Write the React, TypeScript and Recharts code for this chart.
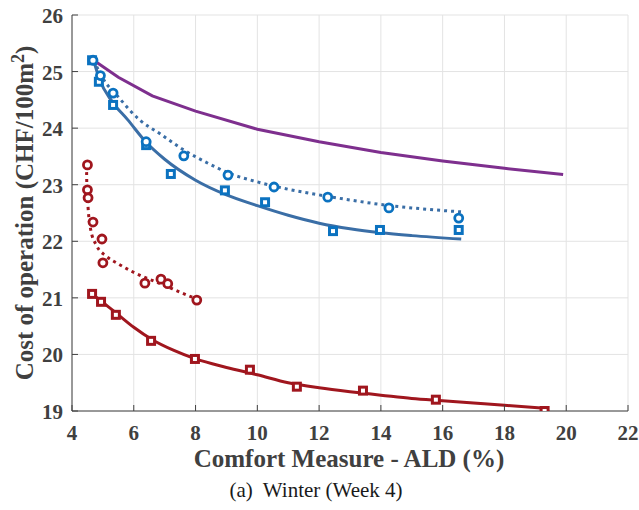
import React from 'react';
import { ComposedChart, Line, Scatter, XAxis, YAxis, CartesianGrid } from 'recharts';

type Pt = [number, number];
const toData = (pts: Pt[]) => pts.map(([x, y]) => ({ x, y }));

// x: comfort measure ALD (%), y: cost of operation (CHF/100m2)
const purpleCurve: Pt[] = [
  [4.7, 25.2], [5.5, 24.9], [6.6, 24.57], [8, 24.3], [10, 23.98], [12, 23.76],
  [14, 23.57], [16, 23.42], [18, 23.29], [19.9, 23.18],
];

const blueFitSolid: Pt[] = [
  [4.7, 25.2], [4.9, 24.85], [5.3, 24.47], [5.8, 24.15], [6.4, 23.75], [7, 23.45],
  [8, 23.08], [9, 22.82], [10, 22.63], [11, 22.46], [12, 22.32], [13, 22.22],
  [14, 22.15], [15, 22.1], [16.6, 22.04],
];
const blueSquares: Pt[] = [
  [4.65, 25.2], [4.87, 24.82], [5.33, 24.41], [6.4, 23.7], [7.2, 23.19],
  [8.95, 22.9], [10.25, 22.69], [12.45, 22.18], [13.97, 22.2], [16.52, 22.2],
];

const blueFitDotted: Pt[] = [
  [4.7, 25.2], [5, 24.88], [5.5, 24.55], [6.2, 24.14], [6.85, 23.9], [7.6, 23.62],
  [8.4, 23.38], [9.1, 23.2], [10, 23.05], [11, 22.92], [12, 22.82], [13, 22.73],
  [14, 22.65], [15, 22.59], [16.6, 22.52],
];
const blueCircles: Pt[] = [
  [4.68, 25.2], [4.92, 24.93], [5.33, 24.62], [6.4, 23.76], [7.62, 23.51],
  [9.05, 23.17], [10.54, 22.96], [12.28, 22.78], [14.26, 22.59], [16.52, 22.41],
];

const redFitSolid: Pt[] = [
  [4.65, 21.07], [5, 20.92], [5.5, 20.7], [6, 20.48], [6.6, 20.26], [7.3, 20.07],
  [8, 19.92], [9, 19.77], [10, 19.64], [11, 19.5], [12, 19.41], [13, 19.34],
  [14, 19.28], [15, 19.22], [16, 19.18], [17, 19.14], [18, 19.1], [19.3, 19.05],
];
const redSquares: Pt[] = [
  [4.65, 21.07], [4.94, 20.93], [5.42, 20.7], [6.56, 20.24], [7.98, 19.92],
  [9.76, 19.73], [11.28, 19.43], [13.42, 19.36], [15.78, 19.2], [19.3, 19.0],
];

const redFitDotted: Pt[] = [
  [4.47, 23.35], [4.48, 23.0], [4.52, 22.6], [4.6, 22.22], [4.8, 21.92], [5.1, 21.74],
  [5.5, 21.6], [6, 21.45], [6.5, 21.33], [7, 21.22], [7.5, 21.1], [8.04, 20.98],
];
const redCircles: Pt[] = [
  [4.5, 23.35], [4.5, 22.91], [4.52, 22.77], [4.68, 22.34], [4.97, 22.04],
  [5.0, 21.62], [6.36, 21.26], [6.88, 21.33], [7.1, 21.25], [8.04, 20.96],
];

const xTicks = [4, 6, 8, 10, 12, 14, 16, 18, 20, 22];
const yTicks = [19, 20, 21, 22, 23, 24, 25, 26];

const PURPLE = '#7E2F8E';
const BLUE_LINE = '#3A6EA6';
const BLUE_MARK = '#0B72C0';
const RED = '#A0161E';
const AXIS = '#404040';
const FONT = '"Liberation Serif", "DejaVu Serif", serif';

const TICK_MARGIN_X = 14;
const TICK_MARGIN_Y = 9;

const XTick = (props: any) => {
  const { x, y, payload } = props;
  const axisY = y - TICK_MARGIN_X;
  return (
    <g>
      <line x1={x} y1={axisY} x2={x} y2={axisY - 6} stroke={AXIS} strokeWidth={1} />
      <text x={x} y={y} dy={15} textAnchor="middle" fill={AXIS}
        style={{ fontFamily: FONT, fontWeight: 'bold', fontSize: 21 }}>
        {payload.value}
      </text>
    </g>
  );
};

const YTick = (props: any) => {
  const { x, y, payload } = props;
  const axisX = x + TICK_MARGIN_Y;
  return (
    <g>
      <line x1={axisX} y1={y} x2={axisX + 6} y2={y} stroke={AXIS} strokeWidth={1} />
      <text x={x} y={y} dy={8} textAnchor="end" fill={AXIS}
        style={{ fontFamily: FONT, fontWeight: 'bold', fontSize: 21 }}>
        {payload.value}
      </text>
    </g>
  );
};

const squareShape = (color: string) => (props: any) => {
  const { cx, cy } = props;
  return <rect x={cx - 3.5} y={cy - 3.5} width={7} height={7} fill="white" stroke={color} strokeWidth={3} />;
};

const circleShape = (color: string) => (props: any) => {
  const { cx, cy } = props;
  return <circle cx={cx} cy={cy} r={4} fill="white" stroke={color} strokeWidth={2.8} />;
};

export default function App() {
  return (
    <div style={{ position: 'absolute', left: 0, top: 0, width: 639, height: 510, background: 'white' }}>
      <ComposedChart width={639} height={510} margin={{ top: 15, right: 11, bottom: 59, left: 12 }}>
        <CartesianGrid stroke="#E3E3E3" strokeWidth={1} />
        <XAxis type="number" dataKey="x" domain={[4, 22]} ticks={xTicks} height={40}
          stroke={AXIS} tickLine={false} tickSize={0} tickMargin={TICK_MARGIN_X}
          tick={(p: any) => <XTick {...p} />} allowDataOverflow />
        <YAxis type="number" dataKey="y" domain={[19, 26]} ticks={yTicks} width={60}
          stroke={AXIS} tickLine={false} tickSize={0} tickMargin={TICK_MARGIN_Y}
          tick={(p: any) => <YTick {...p} />} allowDataOverflow />

        <Line data={toData(purpleCurve)} dataKey="y" type="linear" stroke={PURPLE} strokeWidth={3}
          dot={false} isAnimationActive={false} />

        <Line data={toData(blueFitSolid)} dataKey="y" type="monotone" stroke={BLUE_LINE} strokeWidth={3}
          dot={false} isAnimationActive={false} />
        <Line data={toData(blueFitDotted)} dataKey="y" type="monotone" stroke={BLUE_LINE} strokeWidth={3}
          strokeDasharray="3 4" dot={false} isAnimationActive={false} />
        <Line data={toData(redFitSolid)} dataKey="y" type="monotone" stroke={RED} strokeWidth={3}
          dot={false} isAnimationActive={false} />
        <Line data={toData(redFitDotted)} dataKey="y" type="monotone" stroke={RED} strokeWidth={3}
          strokeDasharray="3 4" dot={false} isAnimationActive={false} />

        <Scatter data={toData(blueSquares)} dataKey="y" shape={squareShape(BLUE_MARK)} isAnimationActive={false} />
        <Scatter data={toData(blueCircles)} dataKey="y" shape={circleShape(BLUE_MARK)} isAnimationActive={false} />
        <Scatter data={toData(redSquares)} dataKey="y" shape={squareShape(RED)} isAnimationActive={false} />
        <Scatter data={toData(redCircles)} dataKey="y" shape={circleShape(RED)} isAnimationActive={false} />
      </ComposedChart>

      {/* axis titles and caption */}
      <svg width={639} height={510} style={{ position: 'absolute', left: 0, top: 0, pointerEvents: 'none' }}>
        <text transform="translate(33,213) rotate(-90)" textAnchor="middle" fill={AXIS}
          style={{ fontFamily: FONT, fontWeight: 'bold', fontSize: 25 }}>
          Cost of operation (CHF/100m<tspan dy={-9} style={{ fontSize: 18 }}>2</tspan><tspan dy={9}>)</tspan>
        </text>
        <text x={349} y={467} textAnchor="middle" fill={AXIS}
          style={{ fontFamily: FONT, fontWeight: 'bold', fontSize: 25 }}>
          Comfort Measure - ALD (%)
        </text>
        <text x={316} y={497} textAnchor="middle" fill="#1A1A1A"
          style={{ fontFamily: FONT, fontSize: 21, whiteSpace: 'pre' }}>
          {'(a)  Winter (Week 4)'}
        </text>
      </svg>
    </div>
  );
}
